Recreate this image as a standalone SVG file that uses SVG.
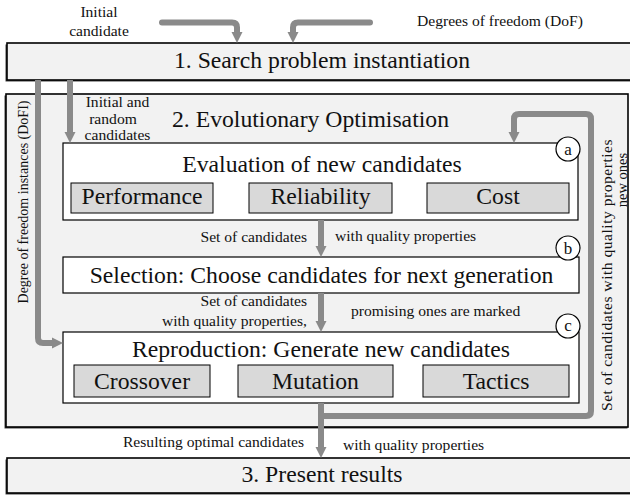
<svg xmlns="http://www.w3.org/2000/svg" width="630" height="495" viewBox="0 0 630 495">
  <style>
    text { font-family: "Liberation Serif", "DejaVu Serif", "Times New Roman", serif; fill: #111; }
    .big { font-size: 23.7px; }
    .lbl { font-size: 15.6px; }
    .mid { text-anchor: middle; }
    .end { text-anchor: end; }
    .stage { fill: #f2f2f2; stroke: #000; stroke-width: 1.6; }
    .shadow { fill: #444; }
    .step { fill: #fff; stroke: #000; stroke-width: 1.2; }
    .metric { fill: #d9d9d9; stroke: #000; stroke-width: 1; }
    .tag { fill: #fff; stroke: #000; stroke-width: 1.2; }
    .flow { fill: none; stroke: #8a8a8a; stroke-width: 6; stroke-linejoin: round; }
    .head { fill: #8a8a8a; }
  </style>

  <!-- Stage 2 container (drawn first so stage boxes sit on top) -->
  <g id="stage2">
    <rect class="shadow" x="4.5" y="95.5" width="623" height="333"/>
    <rect class="stage" x="6" y="94" width="622" height="333"/>
    <text class="big" x="172" y="127">2. Evolutionary Optimisation</text>
  </g>

  <!-- Stage 1 -->
  <g id="stage1">
    <rect class="shadow" x="5.5" y="44.5" width="640" height="37"/>
    <rect class="stage" x="7" y="43" width="640" height="37"/>
    <text class="big mid" x="322" y="68">1. Search problem instantiation</text>
  </g>

  <!-- Stage 3 -->
  <g id="stage3">
    <rect class="shadow" x="5.5" y="459.5" width="640" height="35"/>
    <rect class="stage" x="7" y="458" width="640" height="35"/>
    <text class="big mid" x="322" y="482">3. Present results</text>
  </g>

  <!-- a: evaluation -->
  <g id="evaluation">
    <rect class="step" x="63" y="143" width="515" height="77"/>
    <text class="big mid" x="322" y="172">Evaluation of new candidates</text>
    <g id="performance">
      <rect class="metric" x="71" y="183" width="142" height="30"/>
      <text class="big mid" x="142" y="204">Performance</text>
    </g>
    <g id="reliability">
      <rect class="metric" x="249" y="183" width="143" height="30"/>
      <text class="big mid" x="320.5" y="204">Reliability</text>
    </g>
    <g id="cost">
      <rect class="metric" x="427" y="183" width="142" height="30"/>
      <text class="big mid" x="498" y="204">Cost</text>
    </g>
  </g>

  <!-- b: selection -->
  <g id="selection">
    <rect class="step" x="63" y="257" width="516" height="36"/>
    <text class="big mid" x="321.5" y="283">Selection: Choose candidates for next generation</text>
  </g>

  <!-- c: reproduction -->
  <g id="reproduction">
    <rect class="step" x="63" y="332" width="516" height="71"/>
    <text class="big mid" x="321" y="357">Reproduction: Generate new candidates</text>
    <g id="crossover">
      <rect class="metric" x="74" y="365" width="136" height="32"/>
      <text class="big mid" x="142" y="389">Crossover</text>
    </g>
    <g id="mutation">
      <rect class="metric" x="238" y="365" width="155" height="32"/>
      <text class="big mid" x="315.5" y="389">Mutation</text>
    </g>
    <g id="tactics">
      <rect class="metric" x="423" y="365" width="146" height="32"/>
      <text class="big mid" x="496" y="389">Tactics</text>
    </g>
  </g>

  <!-- step markers -->
  <g id="tag-a">
    <circle class="tag" cx="568" cy="149" r="12"/>
    <text class="mid" x="568" y="154.5" font-size="17">a</text>
  </g>
  <g id="tag-b">
    <circle class="tag" cx="568" cy="248" r="12"/>
    <text class="mid" x="568" y="253.5" font-size="17">b</text>
  </g>
  <g id="tag-c">
    <circle class="tag" cx="568" cy="326" r="12"/>
    <text class="mid" x="568" y="331" font-size="17">c</text>
  </g>

  <!-- connectors -->
  <g id="connectors">
    <!-- inputs into stage 1 -->
    <path class="flow" d="M162,22.5 H232 Q237,22.5 237,27.5 V33" stroke-linecap="round"/>
    <polygon class="head" points="231.5,32 242.5,32 237,43"/>
    <path class="flow" d="M370,22.5 H298 Q293,22.5 293,27.5 V33" stroke-linecap="round"/>
    <polygon class="head" points="287.5,32 298.5,32 293,43"/>

    <!-- initial and random candidates -->
    <path class="flow" d="M70,80 V133"/>
    <polygon class="head" points="64.5,132 75.5,132 70,143"/>

    <!-- degree of freedom instances -->
    <path class="flow" d="M38,80 V338 Q38,343 43,343 H53"/>
    <polygon class="head" points="52,337.5 52,348.5 63,343"/>

    <!-- evaluation to selection -->
    <path class="flow" d="M321,220 V247"/>
    <polygon class="head" points="315.5,246 326.5,246 321,257"/>

    <!-- selection to reproduction -->
    <path class="flow" d="M321,293 V322"/>
    <polygon class="head" points="315.5,321 326.5,321 321,332"/>

    <!-- reproduction to results -->
    <path class="flow" d="M321,403 V448"/>
    <polygon class="head" points="315.5,447 326.5,447 321,458"/>

    <!-- feedback loop back into evaluation -->
    <path class="flow" d="M321,416 H586 Q591,416 591,411 V119 Q591,114 586,114 H519 Q514,114 514,119 V133"/>
    <polygon class="head" points="508.5,132 519.5,132 514,143"/>
  </g>

  <!-- connector labels -->
  <g id="labels">
    <text class="lbl mid" x="99" y="17">Initial</text>
    <text class="lbl mid" x="99" y="36">candidate</text>
    <text class="lbl" x="417" y="26">Degrees of freedom (DoF)</text>

    <text class="lbl mid" x="117.5" y="107">Initial and</text>
    <text class="lbl mid" x="113" y="123.5">random</text>
    <text class="lbl mid" x="117.5" y="140">candidates</text>

    <text class="lbl end" x="307" y="242">Set of candidates</text>
    <text class="lbl" x="335" y="241">with quality properties</text>

    <text class="lbl end" x="307" y="306">Set of candidates</text>
    <text class="lbl end" x="307" y="326">with quality properties,</text>
    <text class="lbl" x="351" y="316">promising ones are marked</text>

    <text class="lbl end" x="304" y="447">Resulting optimal candidates</text>
    <text class="lbl" x="343" y="450">with quality properties</text>

    <text class="mid" font-size="14" transform="translate(28,202) rotate(-90)">Degree of freedom instances (DoFI)</text>
    <text class="lbl mid" letter-spacing="0.5" transform="translate(612,275) rotate(-90)">Set of candidates with quality properties</text>
    <text class="mid" font-size="14.5" transform="translate(627,180) rotate(-90)">new ones</text>
  </g>
</svg>
